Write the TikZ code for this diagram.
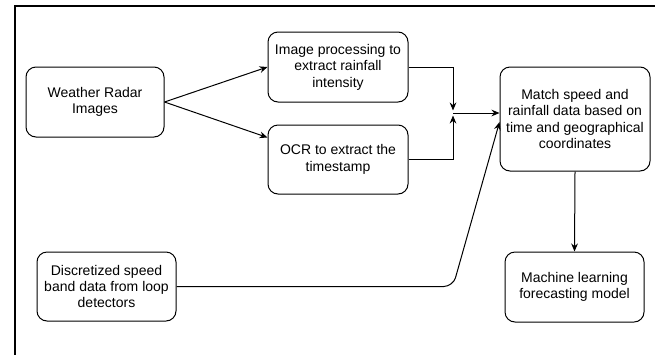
\documentclass[tikz,border=0pt]{standalone}
\usepackage{fontspec}
\setmainfont{Liberation Sans}
\usetikzlibrary{arrows.meta,calc}
\begin{document}
\begin{tikzpicture}[x=0.75pt,y=-0.75pt,
  box/.style={draw, line width=0.75pt, rounded corners=7.5pt, align=center,
    inner sep=0pt, font=\fontsize{10.5}{12.3}\selectfont},
  arr/.style={line width=0.75pt, -{Stealth[length=6pt,width=5pt]}},
  frame/.style={line width=1.5pt}]
\useasboundingbox (0,0) rectangle (655,354);
\draw[frame] (15,360) -- (15,6) -- (662,6);
\node[box, minimum width=103.5pt, minimum height=52.5pt] (wr) at (95,102) {Weather Radar\\Images};
\node[box, minimum width=105pt, minimum height=52.5pt] (ip) at (338,67) {Image processing to\\extract rainfall\\intensity};
\node[box, minimum width=105pt, minimum height=51.75pt] (ocr) at (338,159.5) {OCR to extract the\\timestamp};
\node[box, minimum width=112.5pt, minimum height=78pt] (m) at (575,119) {Match speed and\\rainfall data based on\\time and geographical\\coordinates};
\node[box, minimum width=104.25pt, minimum height=51.75pt] (d) at (106.5,286.5) {Discretized speed\\band data from loop\\detectors};
\node[box, minimum width=104.25pt, minimum height=52.5pt] (ml) at (574.5,287) {Machine learning\\forecasting model};
\coordinate (j) at (453,113);
\coordinate (jt) at (453,110.5);
\coordinate (jb) at (453,115.5);
\coordinate (dk) at (453,286.5);
\draw[arr] (wr.east) -- (ip.west);
\draw[arr] (wr.east) -- ($(ocr.west)+(0,-22)$);
\draw[arr] (ip.east) -| (jt);
\draw[arr] (ocr.east) -| (jb);
\draw[arr] (j) -- (j -| m.west);
\draw[arr, rounded corners=7pt] (d.east) -- (dk) -- ($(m.west)+(0,3)$);
\draw[arr] (m.south) -- (ml.north);
\end{tikzpicture}
\end{document}
